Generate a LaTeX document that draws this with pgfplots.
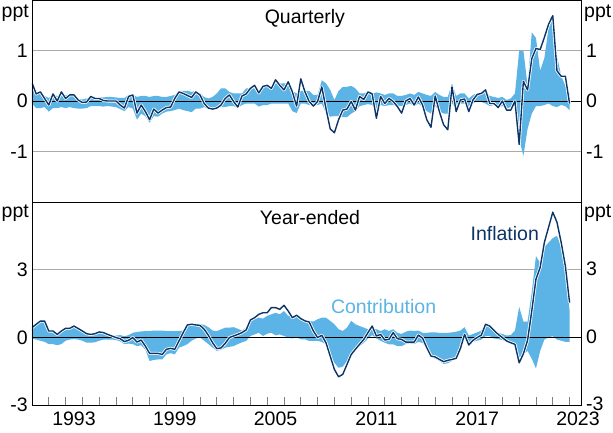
\documentclass[border=0pt]{standalone}
\usepackage{pgfplots}
\pgfplotsset{compat=1.18}
\usepackage{pgfplotstable}
\usepgfplotslibrary{fillbetween}
\usepackage{fontspec}
\setmainfont{Liberation Sans}

\definecolor{navy}{RGB}{12,52,102}
\definecolor{band}{RGB}{91,180,229}
\definecolor{gridgrey}{RGB}{170,170,170}
\newcommand\ff{\fontsize{19.5}{23}\selectfont}

% i = quarter index from 1991Q1; q = quarterly, y = year-ended (ppt)
\pgfplotstableread{
i q qlo qhi y ylo yhi
0 0.36 -0.05 0.30 0.43 -0.05 0.40
1 0.14 -0.14 0.14 0.58 -0.10 0.55
2 0.18 -0.14 0.14 0.72 -0.15 0.70
3 0.05 -0.12 0.10 0.72 -0.20 0.70
4 -0.08 -0.21 0.06 0.28 -0.30 0.30
5 0.14 -0.14 0.12 0.28 -0.30 0.28
6 0.00 -0.14 0.10 0.13 -0.35 0.15
7 0.18 -0.12 0.12 0.28 -0.30 0.28
8 0.05 -0.14 0.12 0.40 -0.15 0.38
9 0.12 -0.12 0.12 0.40 -0.10 0.38
10 0.12 -0.14 0.10 0.50 -0.08 0.45
11 0.02 -0.15 0.04 0.39 -0.10 0.35
12 -0.03 -0.15 0.03 0.28 -0.15 0.25
13 -0.02 -0.14 0.05 0.16 -0.24 0.18
14 0.09 -0.10 0.08 0.13 -0.24 0.15
15 0.05 -0.10 0.08 0.16 -0.22 0.15
16 0.05 -0.10 0.07 0.24 -0.15 0.20
17 0.01 -0.11 0.07 0.21 -0.10 0.18
18 0.00 -0.10 0.08 0.13 -0.10 0.12
19 0.00 -0.11 0.08 0.06 -0.10 0.08
20 0.00 -0.12 0.07 -0.01 -0.12 0.08
21 -0.08 -0.16 0.06 -0.06 -0.18 0.10
22 -0.14 -0.20 0.06 -0.19 -0.30 0.05
23 0.09 -0.12 0.12 -0.13 -0.28 0.10
24 0.12 -0.15 0.12 -0.01 -0.30 0.20
25 -0.24 -0.37 0.08 -0.21 -0.39 0.24
26 -0.08 -0.25 0.10 -0.12 -0.35 0.26
27 -0.21 -0.30 0.10 -0.39 -0.55 0.28
28 -0.37 -0.43 0.08 -0.71 -1.05 0.28
29 -0.16 -0.30 0.10 -0.71 -1.00 0.30
30 -0.24 -0.31 0.10 -0.71 -0.98 0.30
31 -0.18 -0.25 0.08 -0.76 -0.98 0.30
32 -0.13 -0.21 0.08 -0.53 -0.76 0.28
33 -0.12 -0.20 0.10 -0.49 -0.70 0.28
34 0.05 -0.18 0.12 -0.53 -0.76 0.28
35 0.18 -0.15 0.20 -0.16 -0.46 0.28
36 0.15 -0.18 0.20 0.21 -0.39 0.30
37 0.11 -0.20 0.20 0.55 -0.30 0.50
38 0.07 -0.22 0.18 0.58 -0.15 0.60
39 0.18 -0.15 0.20 0.55 -0.05 0.60
40 0.12 -0.15 0.15 0.53 0.00 0.60
41 -0.05 -0.12 0.08 0.36 -0.15 0.55
42 -0.14 -0.16 0.05 0.09 -0.30 0.45
43 -0.16 -0.16 0.08 -0.24 -0.45 0.30
44 -0.14 -0.15 0.15 -0.50 -0.60 0.28
45 -0.08 -0.12 0.25 -0.47 -0.55 0.35
46 0.05 -0.12 0.25 -0.27 -0.46 0.43
47 0.12 -0.10 0.18 -0.01 -0.42 0.43
48 -0.01 -0.10 0.15 0.06 -0.39 0.45
49 -0.12 -0.14 0.15 0.13 -0.30 0.38
50 0.10 -0.08 0.15 0.21 -0.22 0.30
51 0.14 -0.05 0.25 0.33 -0.16 0.43
52 0.25 -0.05 0.25 0.77 0.06 0.72
53 0.31 -0.05 0.25 0.87 0.13 0.80
54 0.16 -0.11 0.16 1.02 0.20 0.87
55 0.29 -0.08 0.28 1.09 0.06 0.83
56 0.31 -0.08 0.28 1.09 0.16 0.95
57 0.25 -0.05 0.28 1.32 0.20 1.02
58 0.42 -0.05 0.35 1.32 0.09 1.09
59 0.31 -0.05 0.35 1.24 0.13 1.02
60 0.22 -0.05 0.35 1.42 0.06 1.17
61 0.38 -0.05 0.35 1.17 -0.01 0.95
62 0.18 -0.20 0.20 0.87 -0.05 0.95
63 -0.10 -0.24 0.15 0.98 0.00 0.98
64 0.44 -0.05 0.20 0.83 -0.09 0.80
65 0.18 -0.05 0.20 0.73 -0.09 0.73
66 -0.01 -0.08 0.20 0.68 -0.16 0.73
67 -0.10 -0.08 0.12 0.28 -0.16 0.70
68 -0.01 -0.08 0.12 -0.01 -0.16 0.80
69 0.28 -0.05 0.41 0.09 -0.20 0.87
70 -0.15 -0.24 0.35 -0.24 -0.31 0.87
71 -0.55 -0.31 0.22 -0.83 -0.75 0.73
72 -0.63 -0.30 0.02 -1.42 -1.13 0.58
73 -0.37 -0.30 0.20 -1.75 -1.35 0.36
74 -0.18 -0.32 0.28 -1.64 -1.30 0.28
75 -0.16 -0.32 0.28 -1.20 -1.05 0.43
76 -0.01 -0.25 0.30 -0.76 -0.83 0.73
77 -0.18 -0.20 0.25 -0.53 -0.60 0.58
78 0.09 -0.10 0.15 -0.31 -0.39 0.50
79 0.03 -0.08 0.15 -0.09 -0.25 0.43
80 0.18 -0.06 0.18 0.21 -0.05 0.36
81 0.14 -0.08 0.15 0.50 0.10 0.40
82 -0.34 -0.17 0.17 0.06 -0.05 0.36
83 0.09 -0.08 0.15 0.13 -0.15 0.28
84 -0.05 -0.10 0.12 -0.12 -0.24 0.36
85 0.05 -0.08 0.15 -0.09 -0.31 0.28
86 -0.01 -0.08 0.15 0.21 -0.31 0.36
87 -0.11 -0.10 0.10 -0.06 -0.39 0.20
88 -0.24 -0.10 0.10 -0.09 -0.39 0.15
89 0.00 -0.08 0.12 -0.21 -0.30 0.25
90 0.05 -0.05 0.15 -0.21 -0.28 0.30
91 -0.08 -0.10 0.12 -0.21 -0.30 0.28
92 0.08 -0.05 0.18 0.10 -0.20 0.30
93 -0.08 -0.12 0.15 -0.04 -0.25 0.20
94 -0.37 -0.20 0.12 -0.46 -0.50 0.20
95 -0.52 -0.25 0.10 -0.83 -0.85 0.22
96 0.10 -0.10 0.18 -0.87 -0.95 0.22
97 -0.21 -0.20 0.12 -0.98 -1.05 0.20
98 -0.47 -0.25 0.08 -1.08 -1.18 0.20
99 -0.57 -0.25 0.08 -1.02 -1.15 0.20
100 0.28 -0.05 0.35 -0.98 -1.05 0.22
101 -0.21 -0.15 0.10 -0.93 -0.95 0.25
102 0.02 -0.05 0.15 -0.50 -0.55 0.30
103 0.04 -0.05 0.15 0.13 0.00 0.45
104 -0.21 -0.15 0.05 -0.34 -0.38 0.08
105 0.02 -0.05 0.12 -0.13 -0.20 0.15
106 0.13 0.00 0.15 -0.01 -0.15 0.22
107 0.15 -0.02 0.15 0.10 -0.10 0.30
108 0.22 -0.05 0.20 0.58 0.05 0.58
109 -0.05 -0.10 0.10 0.50 0.05 0.55
110 -0.05 -0.08 0.08 0.31 -0.05 0.35
111 -0.13 -0.12 0.06 0.13 -0.08 0.20
112 0.00 -0.10 0.08 -0.01 -0.12 0.15
113 -0.18 -0.15 0.02 -0.16 -0.20 0.08
114 -0.18 -0.12 0.05 -0.24 -0.30 0.10
115 0.00 -0.05 0.15 -0.31 -0.35 0.30
116 -0.86 -0.75 1.00 -1.13 -1.00 1.35
117 0.39 -1.09 1.00 -0.73 -0.75 0.70
118 0.22 -0.55 0.30 -0.13 -0.60 0.70
119 0.84 -0.25 1.36 1.17 -0.95 2.00
120 1.04 -0.10 1.25 2.58 -1.38 3.60
121 1.02 -0.10 0.60 3.10 -0.60 3.30
122 1.26 -0.08 0.85 4.21 -0.10 4.00
123 1.52 -0.05 1.45 4.88 0.00 4.20
124 1.69 -0.10 1.62 5.55 0.05 4.40
125 0.60 -0.12 0.90 5.10 -0.10 4.50
126 0.49 -0.08 0.50 4.21 -0.15 4.00
127 0.49 -0.10 0.30 3.17 -0.20 2.80
128 -0.05 -0.18 0.15 1.54 -0.20 1.20
}\data

\pgfplotsset{
  panel/.style={
    scale only axis, width=549pt,
    xmin=1991, xmax=2023.68,
    axis line style={line width=0.9pt},
    major tick length=0pt,
    ymajorgrids, grid style={gridgrey, line width=0.6pt},
    every tick label/.append style={font=\ff},
    yticklabel style={inner sep=0pt, xshift=-4pt},
    clip mode=individual,
  },
  rlabels/.style={
    scale only axis, width=549pt,
    xmin=1991, xmax=2023.68,
    axis line style={line width=0.9pt},
    major tick length=0pt, xtick=\empty,
    yticklabel pos=right,
    every tick label/.append style={font=\ff},
    yticklabel style={inner sep=0pt, xshift=5pt},
  },
}

\begin{document}
\ff
\begin{tikzpicture}
% ---------- top panel: quarterly ----------
\begin{axis}[panel, at={(0,203pt)}, anchor=south west, height=202pt,
    ymin=-2, ymax=2, ytick={-1,0,1}, yticklabels={-1,0,1}, xtick=\empty]
  \addplot[black, line width=0.7pt] coordinates {(1991,0) (2023.68,0)};
  \addplot[draw=none, name path=qhi] table[x expr=1991+\thisrow{i}/4, y=qhi]{\data};
  \addplot[draw=none, name path=qlo] table[x expr=1991+\thisrow{i}/4, y=qlo]{\data};
  \addplot[fill=band, draw=none] fill between[of=qhi and qlo];
  \addplot[white, line width=3pt, line join=round] table[x expr=1991+\thisrow{i}/4, y=q]{\data};
  \addplot[navy, line width=1.4pt, line join=round] table[x expr=1991+\thisrow{i}/4, y=q]{\data};
  \node[anchor=base, font=\ff] at (rel axis cs:0.497,0.886) {Quarterly};
  \node[anchor=north east, inner sep=0pt, font=\ff] at ([xshift=-3pt,yshift=-5pt]rel axis cs:0,1) {ppt};
  \node[anchor=north west, inner sep=0pt, font=\ff] at ([xshift=3pt,yshift=-5pt]rel axis cs:1,1) {ppt};
\end{axis}
\begin{axis}[rlabels, at={(0,203pt)}, anchor=south west, height=202pt,
    ymin=-2, ymax=2, ytick={-1,0,1}, yticklabels={-1,0,1}]
\end{axis}
% ---------- bottom panel: year-ended ----------
\begin{axis}[panel, at={(0,0)}, anchor=south west, height=203pt,
    ymin=-3, ymax=6, ytick={-3,0,3}, yticklabels={-3,0,3},
    xtick={1993.5,1999.5,2005.5,2011.5,2017.5,2023.5},
    xticklabels={1993,1999,2005,2011,2017,2023},
    minor xtick={1992,1993,...,2023},
    minor tick length=8pt, xtick pos=bottom,
    xticklabel style={inner sep=0pt, yshift=-7pt},
    minor tick style={line width=0.8pt}]
  \addplot[black, line width=0.7pt] coordinates {(1991,0) (2023.68,0)};
  \addplot[draw=none, name path=yhi] table[x expr=1991+\thisrow{i}/4, y=yhi]{\data};
  \addplot[draw=none, name path=ylo] table[x expr=1991+\thisrow{i}/4, y=ylo]{\data};
  \addplot[fill=band, draw=none] fill between[of=yhi and ylo];
  \addplot[white, line width=3pt, line join=round] table[x expr=1991+\thisrow{i}/4, y=y]{\data};
  \addplot[navy, line width=1.4pt, line join=round] table[x expr=1991+\thisrow{i}/4, y=y]{\data};
  \node[anchor=base, font=\ff] at (axis cs:2007.55,5.02) {Year-ended};
  \node[anchor=base, font=\ff, text=navy] at (axis cs:2019.14,4.31) {Inflation};
  \node[anchor=base, font=\ff, text=band] at (axis cs:2011.93,1.05) {Contribution};
  \node[anchor=north east, inner sep=0pt, font=\ff] at ([xshift=-3pt,yshift=-3pt]rel axis cs:0,1) {ppt};
  \node[anchor=north west, inner sep=0pt, font=\ff] at ([xshift=3pt,yshift=-3pt]rel axis cs:1,1) {ppt};
\end{axis}
\begin{axis}[rlabels, at={(0,0)}, anchor=south west, height=203pt,
    ymin=-3, ymax=6, ytick={-3,0,3}, yticklabels={-3,0,3},
    yticklabel style={yshift=1pt}]
\end{axis}
\pgfresetboundingbox
\path[use as bounding box] (-32pt,-27pt) rectangle (581pt,405pt);
\end{tikzpicture}
\end{document}
